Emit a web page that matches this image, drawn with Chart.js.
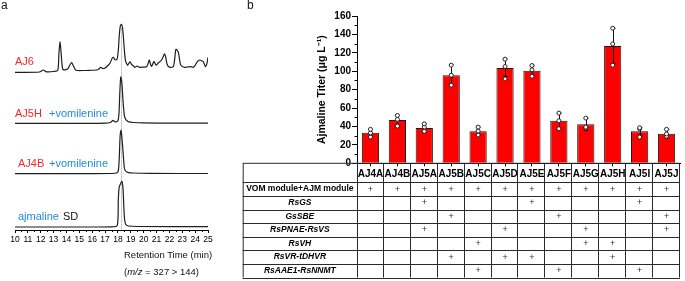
<!DOCTYPE html>
<html lang="en">
<head>
<meta charset="UTF-8">
<title>Ajmaline - chromatograms and titers</title>
<script src="https://cdn.jsdelivr.net/npm/chart.js"></script>
<style>
  body { margin: 0; background: #fff; font-family: 'Liberation Sans', Arial, sans-serif; }
  #wrap { position: relative; width: 685px; height: 281px; overflow: hidden; }
  canvas { position: absolute; top: 0; }
  #chromCanvas { left: 0; }
  #titerCanvas { left: 240px; }
  .lbl { position: absolute; font-size: 11px; line-height: 13px; white-space: nowrap; color: #111; }
  .red { color: #f02828; }
  .blue { color: #1f8ce0; }
</style>
</head>
<body>
<div id="wrap">
  <canvas id="chromCanvas" width="235" height="281"></canvas>
  <canvas id="titerCanvas" width="445" height="281"></canvas>

  <div class="lbl" style="left:1px;top:-1px;font-size:12px">a</div>
  <div class="lbl" style="left:247px;top:-1px;font-size:12px">b</div>

  <div class="lbl red" style="left:15px;top:55px">AJ6</div>
  <div class="lbl red" style="left:15px;top:107px">AJ5H</div>
  <div class="lbl blue" style="left:49px;top:107px">+vomilenine</div>
  <div class="lbl red" style="left:18px;top:157px">AJ4B</div>
  <div class="lbl blue" style="left:49px;top:157px">+vomilenine</div>
  <div class="lbl blue" style="left:18px;top:210px">ajmaline</div>
  <div class="lbl" style="left:63px;top:210px">SD</div>

  <div class="lbl" style="left:124px;top:249px;font-size:9.5px;line-height:11px">Retention Time (min)</div>
  <div class="lbl" style="left:124px;top:266px;font-size:9.5px;line-height:11px">(<i>m/z</i> = 327 &gt; 144)</div>
</div>

<script>
// ---- panel a: chromatograms, [time (min), signal] ----
const aj6Trace = [
  [10.0, 0], [11.9, 0.3], [12.2, 2.3], [12.45, 0.5], [13.0, 0.8], [13.32, 2],
  [13.42, 20], [13.5, 30.7], [13.58, 20], [13.68, 5], [13.78, 2.5],
  [14.1, 3.5], [14.25, 7], [14.4, 9.7], [14.55, 6], [14.7, 2.5], [14.85, 1.8],
  [15.3, 1.8], [15.8, 2], [16.3, 2.3], [16.5, 3], [16.66, 5], [16.85, 3.8],
  [17.0, 4.2], [17.2, 6.5], [17.38, 9], [17.55, 14], [17.64, 15], [17.75, 13],
  [17.85, 12.3], [17.95, 14], [18.03, 22], [18.1, 36], [18.18, 46], [18.27, 48],
  [18.35, 45], [18.42, 36], [18.5, 22], [18.58, 12], [18.66, 9], [18.75, 7],
  [18.94, 10.5], [19.05, 8], [19.2, 6.5], [19.3, 5], [19.5, 6.3], [19.7, 5],
  [20.0, 5.2], [20.23, 5.5], [20.35, 9], [20.44, 12.3], [20.53, 8], [20.62, 6],
  [20.8, 10.7], [20.92, 8], [21.0, 7.3], [21.15, 9.5], [21.27, 10.7], [21.4, 12.5],
  [21.52, 15.7], [21.62, 18.5], [21.7, 16], [21.84, 7.3], [22.04, 5], [22.3, 5.7],
  [22.4, 12], [22.5, 23], [22.6, 22], [22.7, 20], [22.8, 12], [22.88, 7.3],
  [23.13, 5], [23.4, 5.3], [23.6, 5.7], [23.85, 5], [24.0, 7], [24.17, 10.7],
  [24.37, 12.3], [24.5, 11.5], [24.63, 10.7], [24.8, 5.7], [24.92, 9], [25.0, 15]
];
const aj5hTrace = [
  [10, 0.3], [12, 0.3], [15, 0.3], [17, 0.5], [17.45, 1.5], [17.6, 3.3], [17.75, 2],
  [17.9, 2], [18.0, 3], [18.08, 10], [18.15, 32], [18.22, 46.7], [18.3, 42],
  [18.4, 22], [18.5, 8], [18.58, 5], [18.7, 3], [18.85, 1.8], [19.2, 1.2],
  [20, 0.8], [22, 0.5], [25, 0.5]
];
const aj4bTrace = [
  [10, 0.3], [15, 0.3], [17.5, 0.5], [17.9, 1], [18.03, 3.3], [18.1, 15],
  [18.17, 38], [18.24, 44], [18.3, 38], [18.41, 20], [18.5, 6], [18.6, 3],
  [18.75, 1.7], [19.2, 1], [20.5, 0.6], [25, 0.5]
];
const standardTrace = [
  [10, 0], [17.5, 0.2], [17.95, 1.7], [18.03, 28], [18.1, 40], [18.2, 43],
  [18.31, 45.7], [18.37, 42], [18.41, 35], [18.49, 11.7], [18.55, 5], [18.62, 2.3],
  [18.8, 1], [19.5, 0.5], [25, 0.3]
];
const markerTime = 18.25;

// ---- panel b: titers (ug/L) ----
const strains = ['AJ4A', 'AJ4B', 'AJ5A', 'AJ5B', 'AJ5C', 'AJ5D', 'AJ5E', 'AJ5F', 'AJ5G', 'AJ5H', 'AJ5I', 'AJ5J'];
const titers  = [33.2, 46.9, 38.3, 95.7, 34.7, 103.6, 100.4, 46.2, 42.3, 127.5, 34.7, 32.1];
const titerSd = [3.7, 5.1, 4.6, 10.9, 4.6, 9.5, 5.8, 8.3, 6.8, 19.2, 3.9, 4.8];
const rep1 = [36.9, 52.0, 42.9, 106.6, 39.3, 113.1, 106.2, 54.5, 49.1, 146.7, 38.6, 36.9];
const rep2 = [33.0, 47.7, 39.3, 95.7, 35.0, 105.1, 101.5, 46.2, 39.3, 129.7, 37.5, 31.8];
const rep3 = [28.5, 40.4, 34.7, 84.9, 30.7, 91.7, 94.6, 37.5, 38.3, 106.6, 28.5, 29.3];

// table below the bars: 1 = module present
const modules = ['VOM module+AJM module', 'RsGS', 'GsSBE', 'RsPNAE-RsVS', 'RsVH', 'RsVR-tDHVR', 'RsAAE1-RsNNMT'];
const moduleItalic = [false, true, true, true, true, true, true];
const present = [
  [1, 1, 1, 1, 1, 1, 1, 1, 1, 1, 1, 1],
  [0, 0, 1, 0, 0, 0, 1, 0, 0, 0, 1, 0],
  [0, 0, 0, 1, 0, 0, 0, 1, 0, 0, 0, 1],
  [0, 0, 1, 0, 0, 1, 0, 0, 1, 0, 0, 1],
  [0, 0, 0, 0, 1, 0, 0, 0, 1, 1, 0, 0],
  [0, 0, 0, 1, 0, 1, 1, 0, 0, 1, 0, 0],
  [0, 0, 0, 0, 1, 0, 0, 1, 0, 0, 1, 0]
];

const FONT = "'Liberation Sans', Arial, sans-serif";
Chart.defaults.font.family = FONT;
Chart.defaults.color = '#000';

// ---------- panel a ----------
const traces = [aj6Trace, aj5hTrace, aj4bTrace, standardTrace];
const traceBaseline = [157.7, 106.3, 56, 3];   // vertical stacking of the traces

const chromExtras = {
  id: 'chromExtras',
  beforeDatasetsDraw(chart) {
    const { ctx, scales: { x, y } } = chart;
    const px = Math.round(x.getPixelForValue(markerTime)) + 0.5;
    ctx.save();
    ctx.strokeStyle = '#9a9a9a';
    ctx.lineWidth = 1;
    ctx.setLineDash([1, 1]);
    ctx.beginPath();
    ctx.moveTo(px, y.getPixelForValue(traceBaseline[0] + 44));
    ctx.lineTo(px, y.getPixelForValue(0));
    ctx.stroke();
    ctx.restore();
  },
  afterDraw(chart) {
    // minor ticks every half minute
    const { ctx, scales: { x }, chartArea } = chart;
    ctx.save();
    ctx.strokeStyle = '#000';
    ctx.lineWidth = 1;
    for (let t = 10.5; t < 25; t += 1) {
      const px = Math.round(x.getPixelForValue(t)) + 0.5;
      ctx.beginPath();
      ctx.moveTo(px, chartArea.bottom);
      ctx.lineTo(px, chartArea.bottom + 2);
      ctx.stroke();
    }
    ctx.restore();
  }
};

new Chart(document.getElementById('chromCanvas'), {
  type: 'line',
  data: {
    datasets: traces.map((tr, i) => ({
      data: tr.map(p => ({ x: p[0], y: p[1] + traceBaseline[i] })),
      borderColor: '#1e1e1e',
      borderWidth: 1.2,
      pointRadius: 0,
      tension: 0.25,
      fill: false
    }))
  },
  options: {
    responsive: false,
    animation: false,
    layout: { padding: { left: 15, right: 27, top: 10, bottom: 0 } },
    plugins: { legend: { display: false }, tooltip: { enabled: false } },
    scales: {
      x: {
        type: 'linear', min: 10, max: 25,
        ticks: { stepSize: 1, autoSkip: false, maxRotation: 0, padding: 2, font: { size: 8.5 }, color: '#000' },
        grid: { drawOnChartArea: false, tickLength: 3, color: '#000' },
        border: { color: '#000', width: 1 },
        afterFit(s) { s.height = 51; }
      },
      y: { display: false, min: 0, max: 220 }
    }
  },
  plugins: [chromExtras]
});

// ---------- panel b ----------
const titerExtras = {
  id: 'titerExtras',
  afterDatasetDraw(chart, args) {
    if (args.index !== 0) return;
    const { ctx, scales: { x, y } } = chart;
    ctx.save();
    ctx.strokeStyle = '#111';
    ctx.lineWidth = 1;
    titers.forEach((v, i) => {
      const px = Math.round(x.getPixelForValue(i)) + 0.5;
      const top = y.getPixelForValue(v + titerSd[i]);
      const bot = y.getPixelForValue(v - titerSd[i]);
      ctx.beginPath();
      ctx.moveTo(px, bot); ctx.lineTo(px, top);
      ctx.moveTo(px - 2, top); ctx.lineTo(px + 2, top);
      ctx.moveTo(px - 2, bot); ctx.lineTo(px + 2, bot);
      ctx.stroke();
    });
    ctx.restore();
  },
  afterDraw(chart) {
    const { ctx, scales: { x, y }, chartArea } = chart;
    ctx.save();
    // minor y ticks
    ctx.strokeStyle = '#000';
    ctx.lineWidth = 1;
    for (let v = 10; v < 160; v += 20) {
      const py = Math.round(y.getPixelForValue(v)) + 0.5;
      ctx.beginPath();
      ctx.moveTo(chartArea.left - 2.5, py);
      ctx.lineTo(chartArea.left, py);
      ctx.stroke();
    }

    // table
    const half = (x.getPixelForValue(1) - x.getPixelForValue(0)) / 2;
    const tLeft = 2.7;
    const tRight = x.getPixelForValue(strains.length - 1) + half;
    const headTop = chartArea.bottom;
    const rowH = 13.6;
    const rowTop = headTop + 19;
    const tBottom = rowTop + rowH * modules.length;

    ctx.strokeStyle = '#2a2a2a';
    ctx.beginPath();
    ctx.moveTo(tLeft, headTop); ctx.lineTo(tRight, headTop);
    for (let r = 0; r <= modules.length; r++) {
      const py = Math.round(rowTop + r * rowH) + 0.5;
      ctx.moveTo(tLeft, py); ctx.lineTo(tRight, py);
    }
    ctx.moveTo(tLeft + 0.5, headTop); ctx.lineTo(tLeft + 0.5, tBottom);
    ctx.moveTo(Math.round(chartArea.left) + 0.5, headTop); ctx.lineTo(Math.round(chartArea.left) + 0.5, tBottom);
    strains.forEach((s, i) => {
      const px = Math.round(x.getPixelForValue(i) + half) - 0.5;
      ctx.moveTo(px, headTop); ctx.lineTo(px, tBottom);
    });
    ctx.stroke();

    ctx.textAlign = 'center';
    ctx.textBaseline = 'middle';
    const labelX = (tLeft + chartArea.left) / 2;
    modules.forEach((m, r) => {
      const cy = rowTop + (r + 0.5) * rowH;
      ctx.fillStyle = '#000';
      ctx.font = (moduleItalic[r] ? 'italic ' : '') + 'bold 8.5px ' + FONT;
      ctx.fillText(m, labelX, cy);
      ctx.fillStyle = '#333';
      ctx.font = '9px ' + FONT;
      present[r].forEach((p, i) => {
        if (p) ctx.fillText('+', x.getPixelForValue(i), cy);
      });
    });
    ctx.restore();
  }
};

const repStyle = {
  type: 'line', showLine: false, pointRadius: 2, pointBorderWidth: 1,
  pointBackgroundColor: '#fff', pointBorderColor: '#222', order: 1
};

new Chart(document.getElementById('titerCanvas'), {
  type: 'bar',
  data: {
    labels: strains,
    datasets: [
      { data: titers, backgroundColor: '#ff0000', borderColor: '#1a1a1a', borderWidth: 1,
        barPercentage: 0.64, categoryPercentage: 1, order: 2 },
      Object.assign({ data: rep1 }, repStyle),
      Object.assign({ data: rep2 }, repStyle),
      Object.assign({ data: rep3 }, repStyle)
    ]
  },
  options: {
    responsive: false,
    animation: false,
    layout: { padding: { left: 76, right: 1, top: 16, bottom: 0 } },
    plugins: { legend: { display: false }, tooltip: { enabled: false } },
    scales: {
      x: {
        ticks: { font: { size: 10, weight: 'bold' }, color: '#000', padding: 2, maxRotation: 0, autoSkip: false },
        grid: { drawOnChartArea: false, offset: false, tickLength: 3, color: '#000' },
        border: { color: '#000', width: 1 },
        afterFit(s) { s.height = 117.7; }
      },
      y: {
        min: 0, max: 160,
        ticks: { stepSize: 20, font: { size: 10, weight: 'bold' }, color: '#000', padding: 1 },
        grid: { drawOnChartArea: false, tickLength: 5, color: '#000' },
        border: { color: '#000', width: 1 },
        title: { display: true, text: 'Ajmaline Titer (μg L⁻¹)', font: { size: 10.5, weight: 'bold' }, color: '#000', padding: { top: 0, bottom: 0 } },
        afterFit(s) { s.width = 41; }
      }
    }
  },
  plugins: [titerExtras]
});
</script>
</body>
</html>
